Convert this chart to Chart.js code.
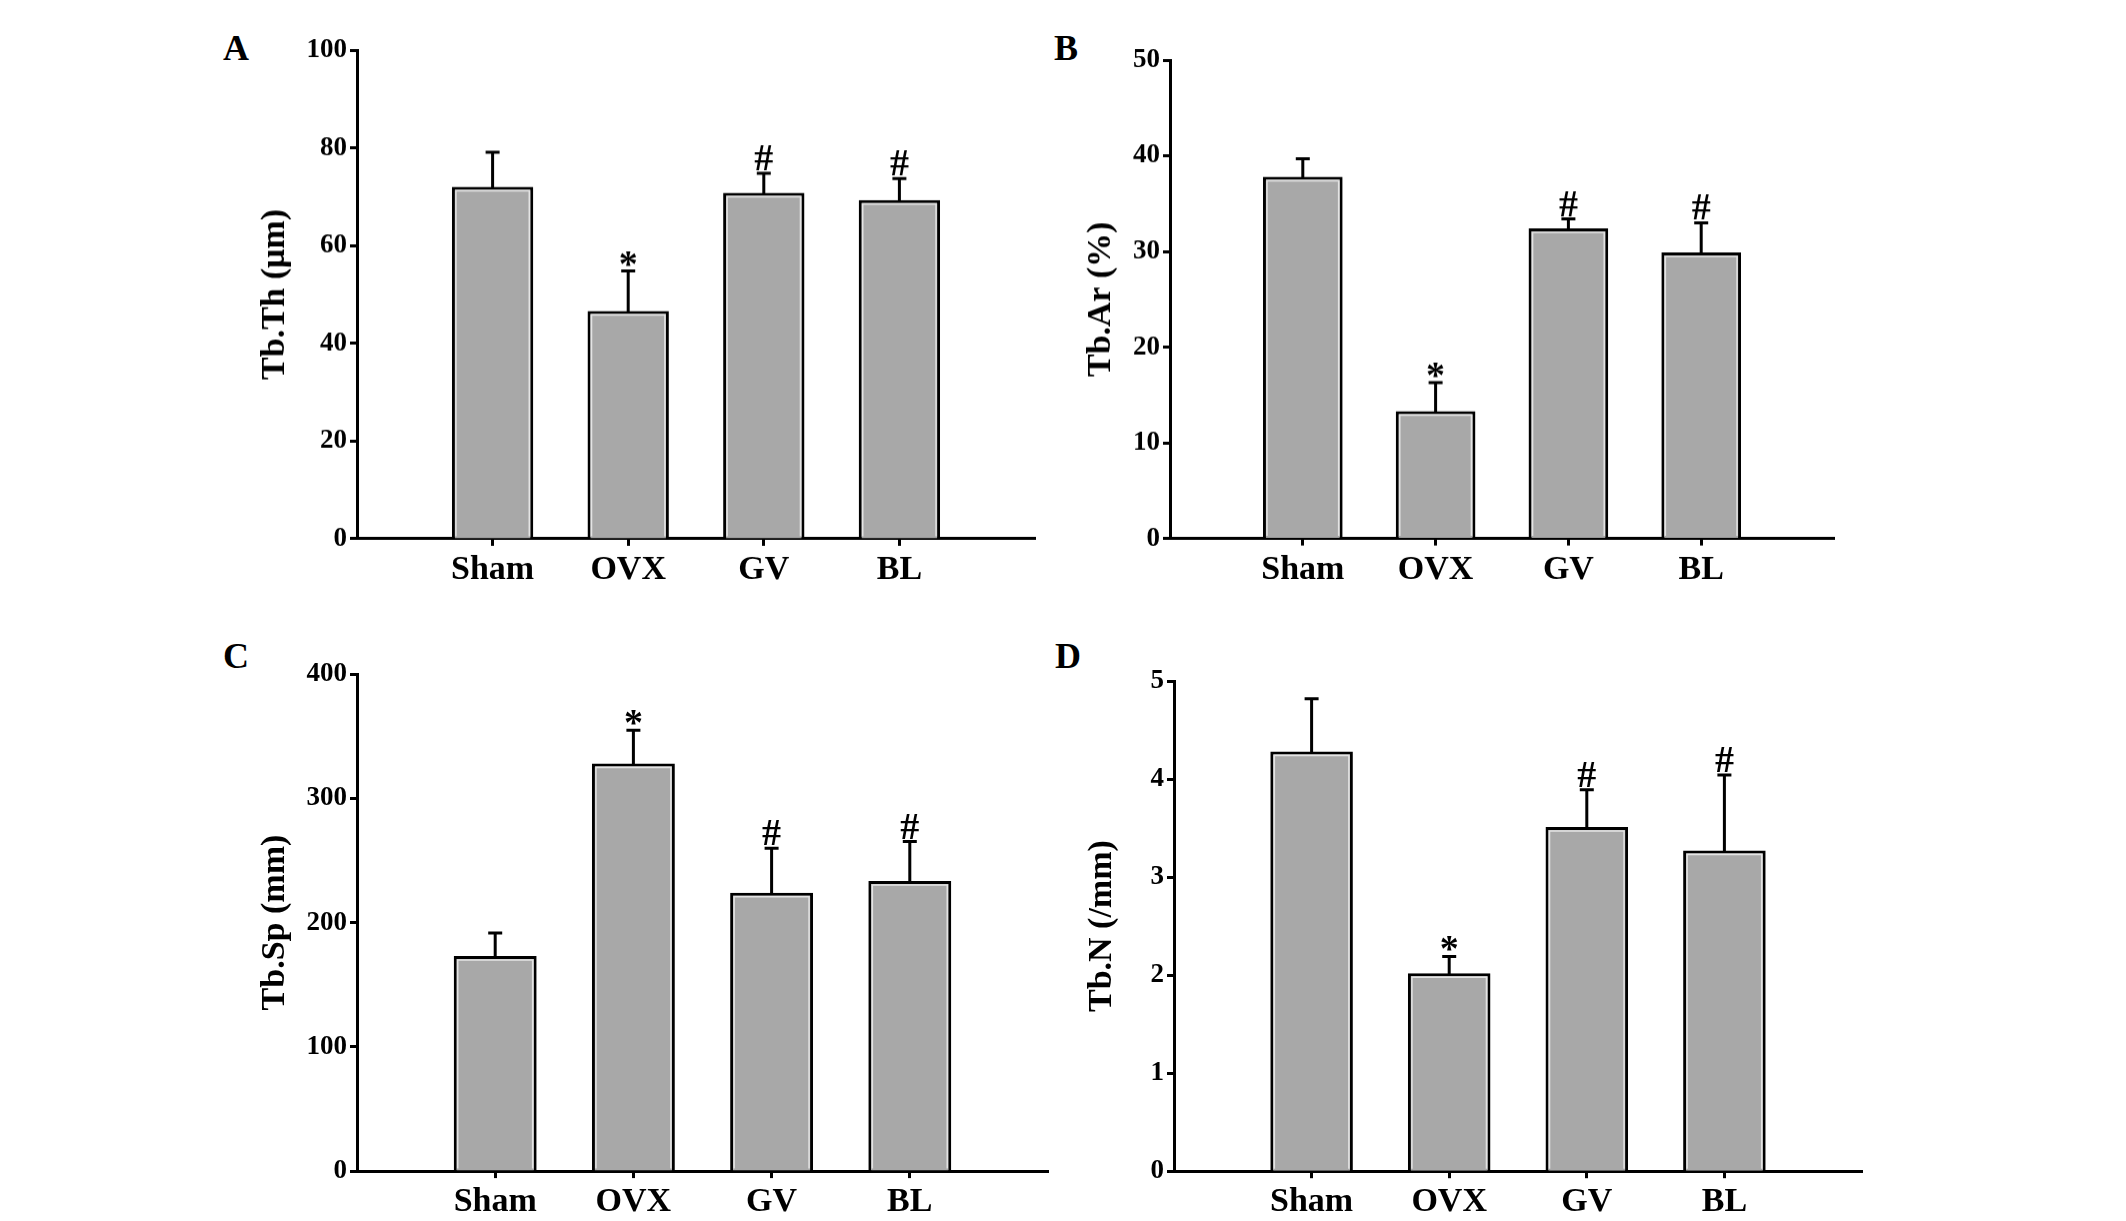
<!DOCTYPE html>
<html>
<head>
<meta charset="utf-8">
<script src="https://cdn.jsdelivr.net/npm/chart.js@4"></script>
<style>
  html, body { margin: 0; padding: 0; background: #fff; }
  body { width: 2126px; height: 1221px; position: relative; overflow: hidden; }
  .box { position: absolute; }
  .letter {
    position: absolute;
    font: bold 36px "Liberation Serif", "Times New Roman", serif;
    color: #000;
    transform: translate(-50%, -50%);
  }
</style>
</head>
<body>
<div class="letter" style="left:236px;top:48px">A</div>
<div class="letter" style="left:1066px;top:48px">B</div>
<div class="letter" style="left:236px;top:656px">C</div>
<div class="letter" style="left:1068px;top:656px">D</div>

<div class="box" id="boxA"><canvas id="chartA"></canvas></div>
<div class="box" id="boxB"><canvas id="chartB"></canvas></div>
<div class="box" id="boxC"><canvas id="chartC"></canvas></div>
<div class="box" id="boxD"><canvas id="chartD"></canvas></div>

<script>
// данные
const categories = ["Sham", "OVX", "GV", "BL"];
const marks = ["", "*", "#", "#"];

const tbTh = [72, 46.6, 70.8, 69.3];
const tbThErr = [7.1, 8.2, 4.0, 4.4];

const tbAr = [37.8, 13.3, 32.4, 29.9];
const tbArErr = [1.9, 3.0, 1.0, 3.1];

const tbSp = [173, 328, 224, 233.5];
const tbSpErr = [18.5, 26.7, 35.7, 31.7];

const tbN = [4.28, 2.02, 3.51, 3.27];
const tbNErr = [0.54, 0.17, 0.38, 0.77];

const FONT = "'Liberation Serif', 'Times New Roman', serif";

// рамки графиков (область построения) и отступы заголовков
const panels = [
  { id: "A", title: "Tb.Th (μm)", values: tbTh, errs: tbThErr, max: 100, step: 20,
    left: 357, right: 1035, top: 49.8, bottom: 537.7, titlePad: 48 },
  { id: "B", title: "Tb.Ar (%)", values: tbAr, errs: tbArErr, max: 50, step: 10,
    left: 1170, right: 1834, top: 60.1, bottom: 537.7, titlePad: 61 },
  { id: "C", title: "Tb.Sp (mm)", values: tbSp, errs: tbSpErr, max: 400, step: 100,
    left: 357, right: 1048, top: 673.7, bottom: 1170.8, titlePad: 48 },
  { id: "D", title: "Tb.N (/mm)", values: tbN, errs: tbNErr, max: 5, step: 1,
    left: 1174, right: 1862, top: 680.6, bottom: 1170.8, titlePad: 58 },
];

const AXIS_W = 150;
const AXIS_H = 75;
const PAD_TOP = 25;
const PAD_RIGHT = 20;

// светлая кромка внутри столбиков, планки погрешностей и значки
const errorBars = {
  id: "errorBars",
  afterDatasetsDraw(chart, args, opts) {
    const ctx = chart.ctx;
    const y = chart.scales.y;
    const meta = chart.getDatasetMeta(0);
    ctx.save();
    meta.data.forEach(function (bar, i) {
      const half = bar.width / 2;
      // кромка
      ctx.strokeStyle = "#e4e4e4";
      ctx.lineWidth = 1.5;
      ctx.beginPath();
      ctx.moveTo(bar.x - half + 4, bar.base - 2);
      ctx.lineTo(bar.x - half + 4, bar.y + 4);
      ctx.lineTo(bar.x + half - 4, bar.y + 4);
      ctx.lineTo(bar.x + half - 4, bar.base - 2);
      ctx.stroke();

      const v = opts.values[i];
      const top = y.getPixelForValue(v + opts.errs[i]);
      const base = y.getPixelForValue(v);
      ctx.strokeStyle = "#000";
      ctx.lineWidth = 3;
      ctx.beginPath();
      ctx.moveTo(bar.x, base + 2);
      ctx.lineTo(bar.x, top);
      ctx.moveTo(bar.x - 7, top);
      ctx.lineTo(bar.x + 7, top);
      ctx.stroke();
      if (marks[i]) {
        ctx.fillStyle = "#000";
        ctx.font = "bold 38px " + FONT;
        ctx.textAlign = "center";
        ctx.textBaseline = "alphabetic";
        const off = marks[i] === "*" ? -5 : 3;
        ctx.fillText(marks[i], bar.x, top - off);
      }
    });
    ctx.restore();
  },
};

panels.forEach(function (p) {
  const box = document.getElementById("box" + p.id);
  box.style.left = (p.left - AXIS_W) + "px";
  box.style.top = (p.top - PAD_TOP) + "px";
  box.style.width = (AXIS_W + (p.right - p.left) + PAD_RIGHT) + "px";
  box.style.height = (PAD_TOP + (p.bottom - p.top) + AXIS_H) + "px";

  new Chart(document.getElementById("chart" + p.id), {
    type: "bar",
    data: {
      datasets: [
        {
          data: p.values.map(function (v, i) { return { x: i + 1, y: v }; }),
          backgroundColor: "#a8a8a8",
          borderColor: "#000",
          borderWidth: 3,
          borderSkipped: "bottom",
          barPercentage: 0.6,
          categoryPercentage: 1,
        },
      ],
    },
    options: {
      responsive: true,
      maintainAspectRatio: false,
      animation: false,
      layout: { padding: { top: PAD_TOP, right: PAD_RIGHT, left: 0, bottom: 0 } },
      plugins: {
        legend: { display: false },
        tooltip: { enabled: false },
        errorBars: { values: p.values, errs: p.errs },
      },
      scales: {
        x: {
          type: "linear",
          min: 0,
          max: 5,
          offset: false,
          afterBuildTicks: function (s) {
            s.ticks = s.ticks.filter(function (t) { return t.value >= 1 && t.value <= 4; });
          },
          afterFit: function (s) { s.height = AXIS_H; },
          ticks: {
            stepSize: 1,
            color: "#000",
            padding: 4,
            font: { family: FONT, size: 34, weight: "bold" },
            callback: function (v) { return categories[v - 1] || ""; },
          },
          grid: { offset: false, drawOnChartArea: false, tickLength: 7, tickWidth: 3, tickColor: "#000" },
          border: { display: true, width: 3, color: "#000" },
        },
        y: {
          min: 0,
          max: p.max,
          afterFit: function (s) { s.width = AXIS_W; },
          ticks: {
            stepSize: p.step,
            color: "#000",
            padding: 3,
            font: { family: FONT, size: 27, weight: "bold" },
          },
          grid: { drawOnChartArea: false, tickLength: 7, tickWidth: 3, tickColor: "#000" },
          border: { display: true, width: 3, color: "#000" },
          title: {
            display: true,
            text: p.title,
            color: "#000",
            padding: { top: p.titlePad, bottom: 0 },
            font: { family: FONT, size: 34, weight: "bold" },
          },
        },
      },
    },
    plugins: [errorBars],
  });
});
</script>
</body>
</html>
